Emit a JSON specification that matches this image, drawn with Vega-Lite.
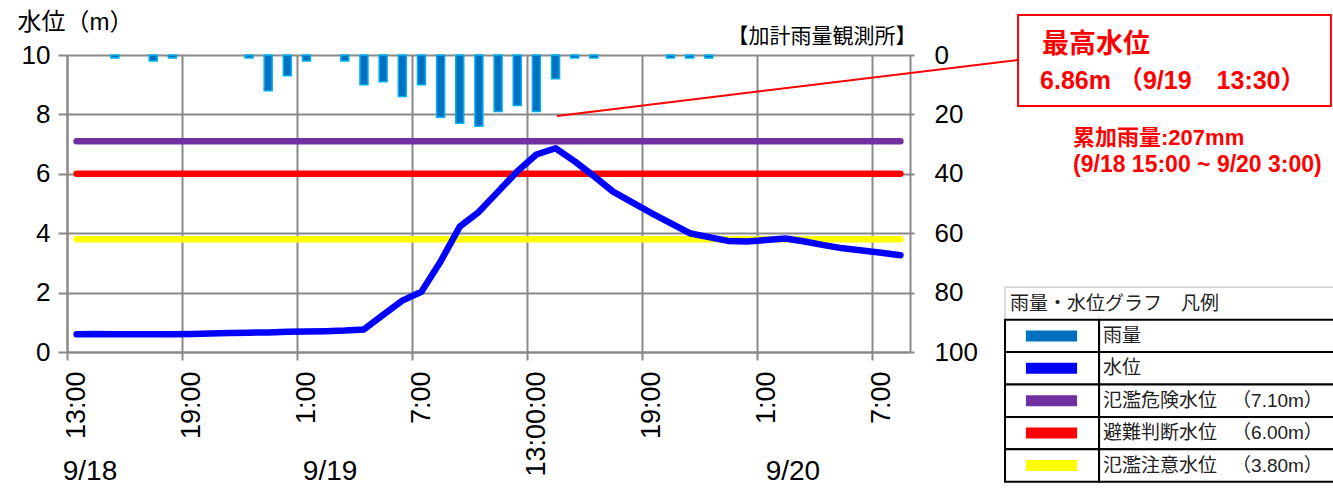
{
  "$schema": "https://vega.github.io/schema/vega-lite/v6.json",
  "width": 843,
  "height": 297,
  "autosize": {"type": "none"},
  "padding": {"left": 67, "top": 55, "right": 423, "bottom": 137},
  "background": "white",
  "config": {
    "view": {"stroke": null},
    "font": "Liberation Sans, Noto Sans CJK JP",
    "axis": {"labelFont": "Liberation Sans", "titleFont": "Liberation Sans, Noto Sans CJK JP", "labelColor": "black", "titleColor": "black"}
  },
  "datasets": {
    "obs": [
      {"time": "9/18 13:00", "h": 0, "level": 0.60, "rain": 0},
      {"time": "9/18 14:00", "h": 1, "level": 0.61, "rain": 0},
      {"time": "9/18 15:00", "h": 2, "level": 0.60, "rain": 1},
      {"time": "9/18 16:00", "h": 3, "level": 0.60, "rain": 0},
      {"time": "9/18 17:00", "h": 4, "level": 0.60, "rain": 2},
      {"time": "9/18 18:00", "h": 5, "level": 0.60, "rain": 1},
      {"time": "9/18 19:00", "h": 6, "level": 0.61, "rain": 0},
      {"time": "9/18 20:00", "h": 7, "level": 0.62, "rain": 0},
      {"time": "9/18 21:00", "h": 8, "level": 0.64, "rain": 0},
      {"time": "9/18 22:00", "h": 9, "level": 0.65, "rain": 1},
      {"time": "9/18 23:00", "h": 10, "level": 0.66, "rain": 12},
      {"time": "9/19 0:00", "h": 11, "level": 0.68, "rain": 7},
      {"time": "9/19 1:00", "h": 12, "level": 0.69, "rain": 2},
      {"time": "9/19 2:00", "h": 13, "level": 0.70, "rain": 0},
      {"time": "9/19 3:00", "h": 14, "level": 0.72, "rain": 2},
      {"time": "9/19 4:00", "h": 15, "level": 0.76, "rain": 10},
      {"time": "9/19 5:00", "h": 16, "level": 1.25, "rain": 9},
      {"time": "9/19 6:00", "h": 17, "level": 1.73, "rain": 14},
      {"time": "9/19 7:00", "h": 18, "level": 2.03, "rain": 10},
      {"time": "9/19 8:00", "h": 19, "level": 3.05, "rain": 21},
      {"time": "9/19 9:00", "h": 20, "level": 4.22, "rain": 23},
      {"time": "9/19 10:00", "h": 21, "level": 4.72, "rain": 24},
      {"time": "9/19 11:00", "h": 22, "level": 5.40, "rain": 19},
      {"time": "9/19 12:00", "h": 23, "level": 6.08, "rain": 17},
      {"time": "9/19 13:00", "h": 24, "level": 6.65, "rain": 19},
      {"time": "9/19 14:00", "h": 25, "level": 6.86, "rain": 8},
      {"time": "9/19 15:00", "h": 26, "level": 6.42, "rain": 1},
      {"time": "9/19 16:00", "h": 27, "level": 5.92, "rain": 1},
      {"time": "9/19 17:00", "h": 28, "level": 5.40, "rain": 0},
      {"time": "9/19 18:00", "h": 29, "level": 5.04, "rain": 0},
      {"time": "9/19 19:00", "h": 30, "level": 4.68, "rain": 0},
      {"time": "9/19 20:00", "h": 31, "level": 4.34, "rain": 1},
      {"time": "9/19 21:00", "h": 32, "level": 4.00, "rain": 1},
      {"time": "9/19 22:00", "h": 33, "level": 3.87, "rain": 1},
      {"time": "9/19 23:00", "h": 34, "level": 3.74, "rain": 0},
      {"time": "9/20 0:00", "h": 35, "level": 3.72, "rain": 0},
      {"time": "9/20 1:00", "h": 36, "level": 3.77, "rain": 0},
      {"time": "9/20 2:00", "h": 37, "level": 3.82, "rain": 0},
      {"time": "9/20 3:00", "h": 38, "level": 3.72, "rain": 0},
      {"time": "9/20 4:00", "h": 39, "level": 3.60, "rain": 0},
      {"time": "9/20 5:00", "h": 40, "level": 3.49, "rain": 0},
      {"time": "9/20 6:00", "h": 41, "level": 3.42, "rain": 0},
      {"time": "9/20 7:00", "h": 42, "level": 3.34, "rain": 0},
      {"time": "9/20 8:00", "h": 43, "level": 3.26, "rain": 0}
    ],
    "thresholds": [
      {"name": "氾濫危険水位", "level": 7.10},
      {"name": "避難判断水位", "level": 6.00},
      {"name": "氾濫注意水位", "level": 3.80}
    ],
    "legend": [
      {"item": "雨量", "lv": ""},
      {"item": "水位", "lv": ""},
      {"item": "氾濫危険水位", "lv": "（7.10m）"},
      {"item": "避難判断水位", "lv": "（6.00m）"},
      {"item": "氾濫注意水位", "lv": "（3.80m）"}
    ]
  },
  "layer": [
    {
      "layer": [
        {
          "data": {"name": "thresholds"},
          "mark": {"type": "rule", "strokeWidth": 6.5, "strokeCap": "round"},
          "encoding": {
            "x": {"datum": 0, "type": "quantitative", "scale": {"domain": [-0.5, 43.5], "nice": false, "zero": false, "padding": 0}},
            "x2": {"datum": 43},
            "y": {"field": "level", "type": "quantitative", "scale": {"domain": [0, 10], "nice": false, "zero": false}},
            "color": {"field": "name", "type": "nominal", "legend": null,
              "scale": {"domain": ["雨量", "水位", "氾濫危険水位", "避難判断水位", "氾濫注意水位"], "range": ["#0070C0", "#0000FF", "#7030A0", "#FF0000", "#FFFF00"]}}
          }
        },
        {
          "data": {"name": "obs"},
          "mark": {"type": "line", "color": "#0000FF", "strokeWidth": 6.5, "strokeCap": "round", "strokeJoin": "round"},
          "encoding": {
            "x": {"field": "h", "type": "quantitative", "scale": {"domain": [-0.5, 43.5], "nice": false, "zero": false, "padding": 0},
              "axis": {
                "values": [-0.5, 5.5, 11.5, 17.5, 23.5, 29.5, 35.5, 41.5],
                "labelExpr": "datum.value == 23.5 ? '13:00:00' : ((13 + datum.value + 0.5) % 24) + ':00'",
                "labelAngle": -90, "labelOffset": 9.6, "labelPadding": 11, "labelFontSize": 27,
                "labelFlush": false, "labelOverlap": false, "labelBound": false,
                "tickSize": 8, "tickColor": "#898989", "tickWidth": 2,
                "domainColor": "#898989", "domainWidth": 2,
                "grid": true, "gridColor": "#898989", "gridWidth": 2, "title": null
              }},
            "y": {"field": "level", "type": "quantitative", "scale": {"domain": [0, 10], "nice": false, "zero": false},
              "axis": {
                "values": [0, 2, 4, 6, 8, 10],
                "title": "水位（m）", "titleAngle": 0, "titleAlign": "left", "titleBaseline": "middle",
                "titleX": -50, "titleY": -33, "titleFontSize": 24, "titleFontWeight": "normal",
                "labelFontSize": 26, "labelPadding": 8, "labelFlush": false,
                "tickSize": 9, "tickColor": "#898989", "tickWidth": 2,
                "domainColor": "#898989", "domainWidth": 2,
                "grid": true, "gridColor": "#898989", "gridWidth": 2
              }}
          }
        },
        {
          "data": {"values": [{}]},
          "mark": {"type": "rule", "color": "#FF0000", "strokeWidth": 2},
          "encoding": {
            "x": {"datum": 25.08, "type": "quantitative", "scale": {"domain": [-0.5, 43.5], "nice": false, "zero": false, "padding": 0}},
            "x2": {"datum": 49.14},
            "y": {"datum": 7.95, "type": "quantitative", "scale": {"domain": [0, 10], "nice": false, "zero": false}},
            "y2": {"datum": 9.83}
          }
        },
        {
          "data": {"values": [{}]},
          "mark": {"type": "rect", "fill": "white", "stroke": "#FF0000", "strokeWidth": 2},
          "encoding": {
            "x": {"datum": 49.14, "type": "quantitative", "scale": {"domain": [-0.5, 43.5], "nice": false, "zero": false, "padding": 0}},
            "x2": {"datum": 65.47},
            "y": {"datum": 11.35, "type": "quantitative", "scale": {"domain": [0, 10], "nice": false, "zero": false}},
            "y2": {"datum": 8.28}
          }
        },
        {
          "data": {"values": [{}]},
          "mark": {"type": "text", "text": "最高水位", "align": "left", "baseline": "middle", "font": "Noto Sans CJK JP", "fontSize": 27, "fontWeight": "bold", "color": "#FF0000"},
          "encoding": {
            "x": {"datum": 50.39, "type": "quantitative", "scale": {"domain": [-0.5, 43.5], "nice": false, "zero": false, "padding": 0}},
            "y": {"datum": 10.34, "type": "quantitative", "scale": {"domain": [0, 10], "nice": false, "zero": false}}
          }
        },
        {
          "data": {"values": [{}]},
          "mark": {"type": "text", "text": "6.86m （9/19　13:30）", "align": "left", "baseline": "middle", "fontSize": 25, "fontWeight": "bold", "color": "#FF0000"},
          "encoding": {
            "x": {"datum": 50.29, "type": "quantitative", "scale": {"domain": [-0.5, 43.5], "nice": false, "zero": false, "padding": 0}},
            "y": {"datum": 9.12, "type": "quantitative", "scale": {"domain": [0, 10], "nice": false, "zero": false}}
          }
        },
        {
          "data": {"values": [{}]},
          "mark": {"type": "text", "text": "累加雨量:207mm", "align": "left", "baseline": "middle", "fontSize": 22, "fontWeight": "bold", "color": "#FF0000"},
          "encoding": {
            "x": {"datum": 52.01, "type": "quantitative", "scale": {"domain": [-0.5, 43.5], "nice": false, "zero": false, "padding": 0}},
            "y": {"datum": 7.21, "type": "quantitative", "scale": {"domain": [0, 10], "nice": false, "zero": false}}
          }
        },
        {
          "data": {"values": [{}]},
          "mark": {"type": "text", "text": "(9/18 15:00 ~ 9/20 3:00)", "align": "left", "baseline": "middle", "fontSize": 23, "fontWeight": "bold", "color": "#FF0000"},
          "encoding": {
            "x": {"datum": 52.01, "type": "quantitative", "scale": {"domain": [-0.5, 43.5], "nice": false, "zero": false, "padding": 0}},
            "y": {"datum": 6.30, "type": "quantitative", "scale": {"domain": [0, 10], "nice": false, "zero": false}}
          }
        },
        {
          "data": {"values": [{}]},
          "mark": {"type": "text", "text": "9/18", "align": "center", "baseline": "middle", "font": "Liberation Sans", "fontSize": 28, "color": "black"},
          "encoding": {
            "x": {"datum": 0.70, "type": "quantitative", "scale": {"domain": [-0.5, 43.5], "nice": false, "zero": false, "padding": 0}},
            "y": {"datum": -4.04, "type": "quantitative", "scale": {"domain": [0, 10], "nice": false, "zero": false}}
          }
        },
        {
          "data": {"values": [{}]},
          "mark": {"type": "text", "text": "9/19", "align": "center", "baseline": "middle", "font": "Liberation Sans", "fontSize": 28, "color": "black"},
          "encoding": {
            "x": {"datum": 13.23, "type": "quantitative", "scale": {"domain": [-0.5, 43.5], "nice": false, "zero": false, "padding": 0}},
            "y": {"datum": -4.04, "type": "quantitative", "scale": {"domain": [0, 10], "nice": false, "zero": false}}
          }
        },
        {
          "data": {"values": [{}]},
          "mark": {"type": "text", "text": "9/20", "align": "center", "baseline": "middle", "font": "Liberation Sans", "fontSize": 28, "color": "black"},
          "encoding": {
            "x": {"datum": 37.39, "type": "quantitative", "scale": {"domain": [-0.5, 43.5], "nice": false, "zero": false, "padding": 0}},
            "y": {"datum": -4.04, "type": "quantitative", "scale": {"domain": [0, 10], "nice": false, "zero": false}}
          }
        }
      ]
    },
    {
      "data": {"name": "obs"},
      "transform": [{"filter": "datum.rain > 0"}],
      "mark": {"type": "bar", "width": 8, "fill": "#0070C0", "stroke": "#00B0F0", "strokeWidth": 1.5},
      "encoding": {
        "x": {"field": "h", "type": "quantitative", "scale": {"domain": [-0.5, 43.5], "nice": false, "zero": false, "padding": 0}},
        "y": {"field": "rain", "type": "quantitative", "scale": {"domain": [0, 100], "reverse": true, "nice": false, "zero": true},
          "axis": {
            "orient": "right", "values": [0, 20, 40, 60, 80, 100], "grid": false,
            "tickSize": 4, "tickColor": "#898989", "tickWidth": 2,
            "domainColor": "#898989", "domainWidth": 2,
            "labelFontSize": 26, "labelPadding": 20, "labelFlush": false,
            "title": "【加計雨量観測所】", "titleAngle": 0, "titleAlign": "left", "titleBaseline": "middle",
            "titleX": -183, "titleY": -19, "titleFontSize": 21, "titleFontWeight": "normal"
          }}
      }
    },
    {
      "layer": [
        {
          "data": {"values": [{}]},
          "mark": {"type": "rect", "fill": "white", "stroke": "#D0D0D0", "strokeWidth": 1.5},
          "encoding": {
            "x": {"datum": 48.46, "type": "quantitative", "scale": {"domain": [-0.5, 43.5], "nice": false, "zero": false, "padding": 0}},
            "x2": {"datum": 65.94},
            "y": {"datum": "凡例", "type": "nominal", "axis": null,
              "scale": {"type": "band", "domain": ["凡例", "雨量", "水位", "氾濫危険水位", "避難判断水位", "氾濫注意水位"], "range": [232.3, 426.7], "paddingInner": 0, "paddingOuter": 0}}
          }
        },
        {
          "data": {"values": [{}]},
          "mark": {"type": "text", "text": "雨量・水位グラフ　凡例", "align": "left", "baseline": "middle", "font": "Noto Sans CJK JP", "fontSize": 19, "color": "#222222"},
          "encoding": {
            "x": {"datum": 48.72, "type": "quantitative", "scale": {"domain": [-0.5, 43.5], "nice": false, "zero": false, "padding": 0}},
            "y": {"datum": "凡例", "type": "nominal", "axis": null,
              "scale": {"type": "band", "domain": ["凡例", "雨量", "水位", "氾濫危険水位", "避難判断水位", "氾濫注意水位"], "range": [232.3, 426.7], "paddingInner": 0, "paddingOuter": 0}}
          }
        },
        {
          "data": {"name": "legend"},
          "mark": {"type": "rect", "fill": "white", "stroke": "black", "strokeWidth": 2},
          "encoding": {
            "x": {"datum": 48.46, "type": "quantitative", "scale": {"domain": [-0.5, 43.5], "nice": false, "zero": false, "padding": 0}},
            "x2": {"datum": 53.37},
            "y": {"field": "item", "type": "nominal", "axis": null,
              "scale": {"type": "band", "domain": ["凡例", "雨量", "水位", "氾濫危険水位", "避難判断水位", "氾濫注意水位"], "range": [232.3, 426.7], "paddingInner": 0, "paddingOuter": 0}}
          }
        },
        {
          "data": {"name": "legend"},
          "mark": {"type": "rect", "fill": "white", "stroke": "black", "strokeWidth": 2},
          "encoding": {
            "x": {"datum": 53.37, "type": "quantitative", "scale": {"domain": [-0.5, 43.5], "nice": false, "zero": false, "padding": 0}},
            "x2": {"datum": 65.94},
            "y": {"field": "item", "type": "nominal", "axis": null,
              "scale": {"type": "band", "domain": ["凡例", "雨量", "水位", "氾濫危険水位", "避難判断水位", "氾濫注意水位"], "range": [232.3, 426.7], "paddingInner": 0, "paddingOuter": 0}}
          }
        },
        {
          "data": {"name": "legend"},
          "mark": {"type": "rule", "strokeWidth": 11, "strokeCap": "butt"},
          "encoding": {
            "x": {"datum": 49.55, "type": "quantitative", "scale": {"domain": [-0.5, 43.5], "nice": false, "zero": false, "padding": 0}},
            "x2": {"datum": 52.22},
            "y": {"field": "item", "type": "nominal", "axis": null,
              "scale": {"type": "band", "domain": ["凡例", "雨量", "水位", "氾濫危険水位", "避難判断水位", "氾濫注意水位"], "range": [232.3, 426.7], "paddingInner": 0, "paddingOuter": 0}},
            "color": {"field": "item", "type": "nominal", "legend": null,
              "scale": {"domain": ["雨量", "水位", "氾濫危険水位", "避難判断水位", "氾濫注意水位"], "range": ["#0070C0", "#0000FF", "#7030A0", "#FF0000", "#FFFF00"]}}
          }
        },
        {
          "data": {"name": "legend"},
          "mark": {"type": "text", "align": "left", "baseline": "middle", "font": "Noto Sans CJK JP", "fontSize": 19, "color": "#222222"},
          "encoding": {
            "x": {"datum": 53.57, "type": "quantitative", "scale": {"domain": [-0.5, 43.5], "nice": false, "zero": false, "padding": 0}},
            "y": {"field": "item", "type": "nominal", "axis": null,
              "scale": {"type": "band", "domain": ["凡例", "雨量", "水位", "氾濫危険水位", "避難判断水位", "氾濫注意水位"], "range": [232.3, 426.7], "paddingInner": 0, "paddingOuter": 0}},
            "text": {"field": "item"}
          }
        },
        {
          "data": {"name": "legend"},
          "mark": {"type": "text", "align": "left", "baseline": "middle", "fontSize": 19, "color": "#222222"},
          "encoding": {
            "x": {"datum": 60.31, "type": "quantitative", "scale": {"domain": [-0.5, 43.5], "nice": false, "zero": false, "padding": 0}},
            "y": {"field": "item", "type": "nominal", "axis": null,
              "scale": {"type": "band", "domain": ["凡例", "雨量", "水位", "氾濫危険水位", "避難判断水位", "氾濫注意水位"], "range": [232.3, 426.7], "paddingInner": 0, "paddingOuter": 0}},
            "text": {"field": "lv"}
          }
        }
      ]
    }
  ],
  "resolve": {"scale": {"y": "independent"}, "axis": {"y": "independent"}}
}
